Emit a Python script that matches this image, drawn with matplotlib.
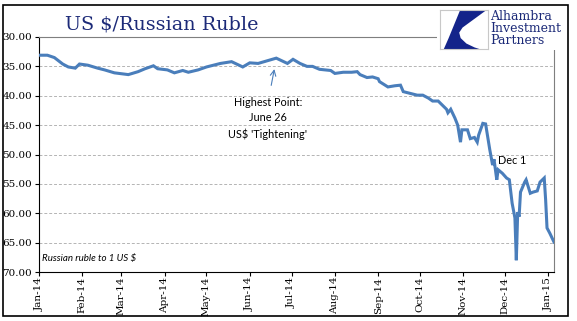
import numpy as np
import matplotlib
matplotlib.use("Agg")
import matplotlib.pyplot as plt
import matplotlib.dates as mdates
from matplotlib.patches import Rectangle, Polygon

# data (rubles per 1 US$)
dates = np.array([
    "2014-01-01", "2014-01-07", "2014-01-12", "2014-01-18", "2014-01-22", "2014-01-27",
    "2014-01-30", "2014-02-05", "2014-02-12", "2014-02-17", "2014-02-24", "2014-03-06",
    "2014-03-13", "2014-03-18", "2014-03-24", "2014-03-27", "2014-04-03", "2014-04-08",
    "2014-04-14", "2014-04-18", "2014-04-25", "2014-05-01", "2014-05-06", "2014-05-11",
    "2014-05-19", "2014-05-27", "2014-06-01", "2014-06-07", "2014-06-20", "2014-06-28",
    "2014-07-02", "2014-07-07", "2014-07-12", "2014-07-16", "2014-07-21", "2014-07-29",
    "2014-08-01", "2014-08-07", "2014-08-13", "2014-08-17", "2014-08-19", "2014-08-24",
    "2014-08-28", "2014-09-01", "2014-09-02", "2014-09-08", "2014-09-13", "2014-09-17",
    "2014-09-19", "2014-09-24", "2014-09-29", "2014-10-03", "2014-10-07", "2014-10-10",
    "2014-10-14", "2014-10-17", "2014-10-20", "2014-10-21", "2014-10-23", "2014-10-26",
    "2014-10-28", "2014-10-30", "2014-10-31", "2014-11-04", "2014-11-06", "2014-11-09",
    "2014-11-11", "2014-11-12", "2014-11-15", "2014-11-17", "2014-11-20", "2014-11-22",
    "2014-11-23", "2014-11-25", "2014-11-26", "2014-11-29", "2014-12-02", "2014-12-04",
    "2014-12-06", "2014-12-08", "2014-12-09", "2014-12-10", "2014-12-11", "2014-12-12",
    "2014-12-15", "2014-12-16", "2014-12-19", "2014-12-21", "2014-12-24", "2014-12-26",
    "2014-12-29", "2014-12-30", "2014-12-31", "2015-01-02", "2015-01-05",
], dtype="datetime64[D]")
rub = [
    33.1, 33.1, 33.5, 34.6, 35.1, 35.3,
    34.6, 34.8, 35.3, 35.6, 36.1, 36.4,
    35.9, 35.4, 34.9, 35.4, 35.6, 36.1,
    35.7, 36.0, 35.6, 35.1, 34.8, 34.5,
    34.2, 35.1, 34.4, 34.5, 33.6, 34.5,
    33.8, 34.5, 35.0, 35.0, 35.5, 35.7,
    36.2, 36.0, 36.0, 35.9, 36.4, 36.9,
    36.8, 37.1, 37.6, 38.5, 38.3, 38.2,
    39.3, 39.6, 39.9, 39.9, 40.4, 40.9,
    40.9, 41.6, 42.3, 42.9, 42.3, 43.8,
    45.0, 47.9, 45.8, 45.8, 47.3, 47.1,
    47.9, 46.7, 44.7, 44.8, 49.2, 51.8,
    50.8, 54.3, 52.6, 53.2, 54.0, 54.3,
    58.3, 60.8, 68.0, 59.8, 60.6, 56.4,
    54.7, 54.3, 56.6, 56.4, 56.2, 54.7,
    54.0, 57.7, 62.5, 63.4, 64.9,
]

yticks = [30, 35, 40, 45, 50, 55, 60, 65, 70]

blue = "#4a7ebb"
navy = "#1c2a78"
W, H = 577, 321

fig = plt.figure(figsize=(W / 100, H / 100), dpi=100)
fig.patch.set_facecolor("white")
ax = fig.add_axes([39 / W, 1 - 272 / H, (554 - 39) / W, (272 - 37) / H])

ax.plot(dates, rub, color=blue, lw=2.2, solid_joinstyle="miter", zorder=3)

ax.set_ylim(70, 30)
ax.set_yticks(yticks)
ax.set_yticklabels(["%.2f" % v for v in yticks], family="DejaVu Serif", fontsize=7.5)
ax.set_xlim(np.datetime64("2014-01-01"), np.datetime64("2015-01-05"))
ax.xaxis.set_major_locator(mdates.MonthLocator())
ax.xaxis.set_major_formatter(mdates.DateFormatter("%b-%y"))
for lab in ax.get_xticklabels():
    lab.set_rotation(90)
    lab.set_family("DejaVu Serif")
    lab.set_fontsize(7.5)
ax.tick_params(axis="both", direction="out", length=3, width=0.8, colors="black")
ax.tick_params(axis="y", pad=2)
ax.tick_params(axis="x", pad=0.5)

for v in yticks[1:-1]:
    ax.axhline(v, color="#b4b4b4", lw=0.7, ls=(0, (3, 2)), zorder=1)

ax.spines["left"].set_color("black")
ax.spines["bottom"].set_color("black")
ax.spines["top"].set_color("#7f7f7f")
ax.spines["right"].set_color("#7f7f7f")

ax.text(0.006, 0.04, "Russian ruble to 1 US $", transform=ax.transAxes,
        family="Lato", style="italic", fontsize=7, va="bottom", ha="left")

ax.annotate("", xy=(np.datetime64("2014-06-19"), 35.0),
            xytext=(np.datetime64("2014-06-16"), 38.7),
            arrowprops=dict(arrowstyle="->", color=blue, lw=0.8))
ax.text(np.datetime64("2014-06-14"), 40.2, "Highest Point:\nJune 26\nUS$ 'Tightening'",
        family="Lato", fontsize=7.8, ha="center", va="top", linespacing=1.5)
ax.text(np.datetime64("2014-11-26"), 51.1, "Dec 1", family="Lato", fontsize=7.8,
        ha="left", va="center")

# title
fig.text(65 / W, 1 - 25 / H, "US $/Russian Ruble", family="DejaVu Serif",
         fontsize=13.8, color=navy, ha="left", va="center")

# logo area
fig.patches.append(Rectangle((437 / W, 1 - 50 / H), 130 / W, 45 / H,
                             transform=fig.transFigure, facecolor="white",
                             edgecolor="none", zorder=2))
lax = fig.add_axes([440 / W, 1 - 49 / H, 48 / W, 39 / H], zorder=5)
lax.set_xlim(0, 1)
lax.set_ylim(1, 0)
lax.set_xticks([])
lax.set_yticks([])
for s in lax.spines.values():
    s.set_color("#c8c8c8")
    s.set_linewidth(0.8)
lax.add_patch(Polygon([(0.42, 0.0), (0.97, 0.0), (0.47, 0.45), (0.40, 0.58),
                       (0.43, 0.72), (0.55, 0.86), (0.72, 0.96), (0.82, 1.0),
                       (0.08, 1.0), (0.18, 0.72), (0.28, 0.42)],
                      closed=True, facecolor="#14248a", edgecolor="none"))
for i, word in enumerate(["Alhambra", "Investment", "Partners"]):
    fig.text(490 / W, 1 - (16 + 12.5 * i) / H, word, family="DejaVu Serif",
             fontsize=9, color=navy, ha="left", va="center", zorder=6)

# outer frame
fig.patches.append(Rectangle((3 / W, 1 - 316 / H), 565 / W, 311 / H,
                             transform=fig.transFigure, facecolor="none",
                             edgecolor="black", lw=1.2, zorder=7))

fig.savefig("out.png", dpi=100)
